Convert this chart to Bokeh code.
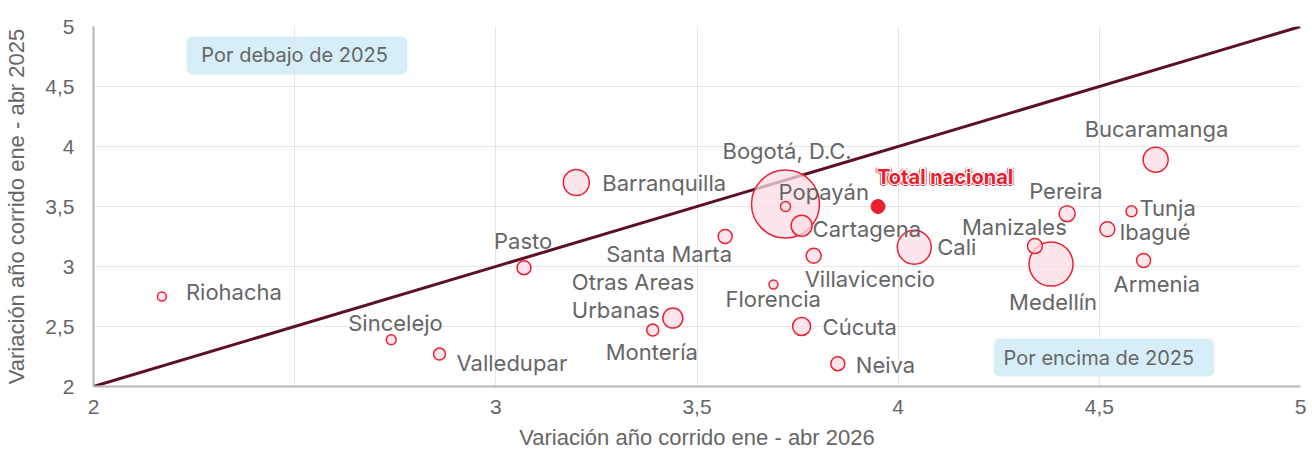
from bokeh.plotting import figure
from bokeh.models import ColumnDataSource, Label, FixedTicker, Range1d, BoxAnnotation
from bokeh.embed import file_html
from bokeh.resources import INLINE
from bokeh.core.properties import value
import math

# ---------------- data ----------------
ciudades = ["Bogotá, D.C.", "Medellín", "Cali", "Barranquilla", "Bucaramanga",
            "Cartagena", "Otras Areas\nUrbanas", "Cúcuta", "Pereira", "Villavicencio",
            "Manizales", "Ibagué", "Pasto", "Santa Marta", "Neiva", "Armenia",
            "Valledupar", "Montería", "Tunja", "Popayán", "Sincelejo", "Riohacha",
            "Florencia"]
var_2026 = [3.72, 4.38, 4.04, 3.20, 4.64, 3.76, 3.44, 3.76, 4.42, 3.79,
            4.34, 4.52, 3.07, 3.57, 3.85, 4.61, 2.86, 3.39, 4.58, 3.72,
            2.74, 2.17, 3.69]
var_2025 = [3.52, 3.02, 3.16, 3.70, 3.89, 3.34, 2.57, 2.50, 3.44, 3.09,
            3.17, 3.31, 2.99, 3.25, 2.19, 3.05, 2.27, 2.47, 3.46, 3.50,
            2.39, 2.75, 2.85]
peso = [1156, 484, 289, 169, 156, 110, 100, 81, 64, 56,
        56, 56, 49, 49, 49, 49, 36, 36, 30, 25, 25, 20, 20]

total_nombre = "Total nacional"
total_2026 = 3.95
total_2025 = 3.50

ticks = [2, 2.5, 3, 3.5, 4, 4.5, 5]

# label placement (screen pixel offsets from each bubble)
label_dx = [-63, -42, 23, 26, -71, 11, -101, 21, -38, -9,
            -73, 12, -30, -119, 18, -30, 17, -47, 8, -7, -43, 24, -48]
label_dy = [-53, 38, 0, 0, -31, 3, -22, 0, -23, 23,
            -19, 3, -27, 17, 1, 23, 9, 22, -3, -15, -17, -5, 14]

# ---------------- figure ----------------
p = figure(width=1310, height=452, output_backend="svg", toolbar_location=None,
           x_range=Range1d(2, 5), y_range=Range1d(2, 5),
           min_border_left=93, min_border_right=10, min_border_top=26,
           min_border_bottom=65)
p.outline_line_color = None
p.background_fill_color = "white"

tk = FixedTicker(ticks=ticks)
for ax in (p.xaxis[0], p.yaxis[0]):
    ax.ticker = tk
    ax.axis_line_color = "#b8b8b8"
    ax.axis_line_width = 2
    ax.major_tick_line_color = None
    ax.minor_tick_line_color = None
    ax.major_label_text_font = "Liberation Sans"
    ax.major_label_text_font_size = "21px"
    ax.major_label_text_color = "#666666"
    ax.axis_label_text_font = "Liberation Sans"
    ax.axis_label_text_font_size = "22px"
    ax.axis_label_text_color = "#666666"
    ax.axis_label_text_font_style = "normal"

fmt = {float(t): (str(t).replace(".", ",")) for t in ticks}
p.yaxis[0].major_label_overrides = dict(fmt)
xfmt = dict(fmt)
xfmt[2.5] = ""
p.xaxis[0].major_label_overrides = xfmt

p.xaxis[0].axis_label = "Variación año corrido ene - abr 2026"
p.yaxis[0].axis_label = "Variación año corrido ene - abr 2025"
p.xaxis[0].major_label_standoff = 7
p.xaxis[0].axis_label_standoff = 8
p.yaxis[0].major_label_standoff = 13
p.yaxis[0].axis_label_standoff = 13

p.grid.grid_line_color = "#e6e6e6"
p.grid.grid_line_width = 1

# region boxes (under the grid)
for l, r, t, b in ((2.231, 2.780, 4.917, 4.601), (4.237, 4.786, 2.399, 2.083)):
    p.add_layout(BoxAnnotation(left=l, right=r, top=t, bottom=b, fill_color="#d6eef8",
                               fill_alpha=1.0, line_color=None, border_radius=6,
                               level="image"))

# diagonal y = x
p.line([ticks[0], ticks[-1]], [ticks[0], ticks[-1]], line_color="#5c0f25", line_width=3)

# bubbles
src = ColumnDataSource(dict(
    x=var_2026, y=var_2025, name=ciudades,
    size=[2 * math.sqrt(w) for w in peso],
    dx=label_dx, dy=label_dy,
))
p.scatter("x", "y", size="size", source=src, fill_color="#fcdce5", fill_alpha=0.75,
          line_color="#ec2234", line_width=1.5)

p.text("x", "y", text="name", source=src, x_offset="dx", y_offset="dy",
       text_font=value("Inter"), text_font_size="22px", text_color="#666666",
       text_align="left", text_baseline="middle", text_line_height=1.05)

# total nacional
p.scatter([total_2026], [total_2025], size=14, fill_color="#e8202f", line_color="#e8202f")
tsrc = ColumnDataSource(dict(x=[total_2026], y=[total_2025], t=[total_nombre]))
for r, col in ((2.0, "#e8202f"), (1.2, "white")):
    for ang in range(0, 360, 30):
        ox = r * math.cos(math.radians(ang))
        oy = r * math.sin(math.radians(ang))
        p.text("x", "y", text="t", source=tsrc, x_offset=-1 + ox, y_offset=-30 + oy,
               text_font=value("Inter"), text_font_size="20px", text_font_style="bold",
               text_color=col, text_align="left", text_baseline="middle")
p.text("x", "y", text="t", source=tsrc, x_offset=-1, y_offset=-30,
       text_font=value("Inter"), text_font_size="20px", text_font_style="bold",
       text_color="#e8202f", text_align="left", text_baseline="middle")

# region box texts
for txt, bx, by in (("Por debajo de 2025", 2.268, 4.759), ("Por encima de 2025", 4.262, 2.241)):
    p.add_layout(Label(x=bx, y=by, text=txt, text_font="Inter", text_font_size="20px",
                       text_color="#666666", text_align="left", text_baseline="middle"))

open("out.html", "w").write(file_html(p, INLINE))
